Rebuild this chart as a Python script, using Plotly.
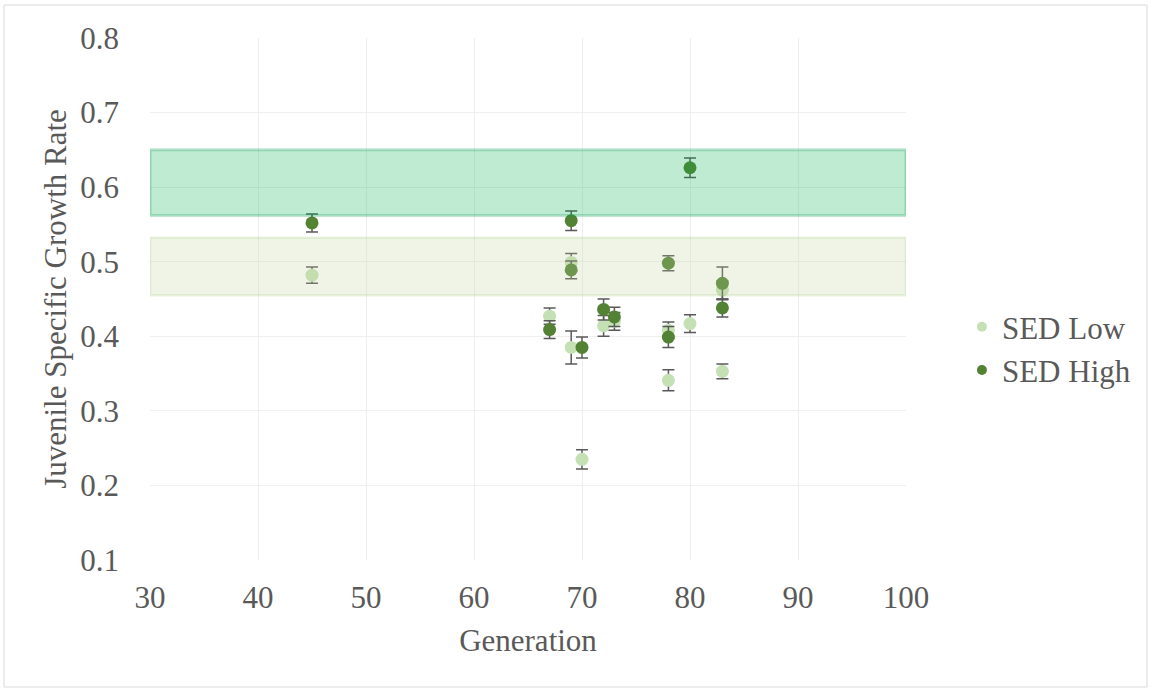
import plotly.graph_objects as go

# Data
gen_low = [45, 67, 69, 69, 70, 72, 73, 78, 78, 80, 83, 83]
sgr_low = [0.482, 0.427, 0.499, 0.385, 0.235, 0.414, 0.420, 0.408, 0.341, 0.417, 0.462, 0.353]
err_low = [0.011, 0.011, 0.012, 0.022, 0.013, 0.014, 0.012, 0.011, 0.014, 0.012, 0.012, 0.010]

gen_high = [45, 67, 69, 69, 70, 72, 73, 78, 78, 80, 83, 83]
sgr_high = [0.552, 0.409, 0.555, 0.489, 0.385, 0.436, 0.426, 0.498, 0.399, 0.626, 0.471, 0.438]
err_high = [0.012, 0.012, 0.013, 0.012, 0.014, 0.014, 0.013, 0.010, 0.014, 0.013, 0.022, 0.012]

band_high = [0.562, 0.650]
band_low = [0.455, 0.532]

x_ticks = [30, 40, 50, 60, 70, 80, 90, 100]
y_ticks = [0.1, 0.2, 0.3, 0.4, 0.5, 0.6, 0.7, 0.8]

FONT = "Liberation Serif"
TXT = "#595959"
ERRC = "#595959"
FS = 31

fig = go.Figure()
fig.add_trace(go.Scatter(
    x=gen_low, y=sgr_low, mode="markers", name="SED Low", showlegend=False,
    marker=dict(color="#c5e0b4", size=13),
    error_y=dict(type="data", array=err_low, color=ERRC, thickness=1.5, width=6),
))
fig.add_trace(go.Scatter(
    x=gen_high, y=sgr_high, mode="markers", name="SED High", showlegend=False,
    marker=dict(color="#548235", size=13),
    error_y=dict(type="data", array=err_high, color=ERRC, thickness=1.5, width=6),
))
# legend entries (smaller symbols, as in the reference)
fig.add_trace(go.Scatter(x=[None], y=[None], mode="markers", name="SED Low",
                         marker=dict(color="#c5e0b4", size=10)))
fig.add_trace(go.Scatter(x=[None], y=[None], mode="markers", name="SED High",
                         marker=dict(color="#548235", size=10)))

fig.add_shape(type="rect", xref="x", yref="y", x0=30, x1=100,
              y0=band_high[0], y1=band_high[1], layer="above",
              fillcolor="rgba(0,176,80,0.25)", line=dict(color="rgba(0,150,70,0.25)", width=3))
fig.add_shape(type="rect", xref="x", yref="y", x0=30, x1=100,
              y0=band_low[0], y1=band_low[1], layer="above",
              fillcolor="rgba(190,210,160,0.25)", line=dict(color="rgba(160,200,120,0.22)", width=2.5))

# outer chart border
fig.add_shape(type="rect", xref="paper", yref="paper",
              x0=-0.1931, x1=1.3188, y0=-0.2433, y1=1.0632,
              line=dict(color="#d9d9d9", width=1), layer="below")

fig.update_layout(
    width=1151, height=691,
    margin=dict(l=150, r=245, t=38, b=131),
    paper_bgcolor="white", plot_bgcolor="white",
    font=dict(family=FONT, color=TXT, size=FS),
    showlegend=True,
    legend=dict(x=1.074, y=0.405, xanchor="left", yanchor="middle",
                font=dict(family=FONT, size=FS, color=TXT), itemsizing="trace",
                tracegroupgap=0),
    xaxis=dict(range=[30, 100], tickvals=x_ticks, showgrid=True, gridcolor="#efefef", gridwidth=1.2,
               zeroline=False, showline=False, ticks="", ticklabelstandoff=16,
               tickfont=dict(size=FS),
               title=dict(text="Generation", font=dict(size=FS), standoff=15)),
    yaxis=dict(range=[0.1, 0.8], tickvals=y_ticks, tickformat=".1f", showgrid=True, gridcolor="#efefef",
               gridwidth=1.2, zeroline=False, showline=False, ticks="", ticklabelstandoff=30,
               tickfont=dict(size=FS),
               title=dict(text="Juvenile Specific Growth Rate", font=dict(size=FS), standoff=4)),
)

fig.write_html("out.html", config={"displayModeBar": False},
               post_script="document.body.style.margin='0';")
